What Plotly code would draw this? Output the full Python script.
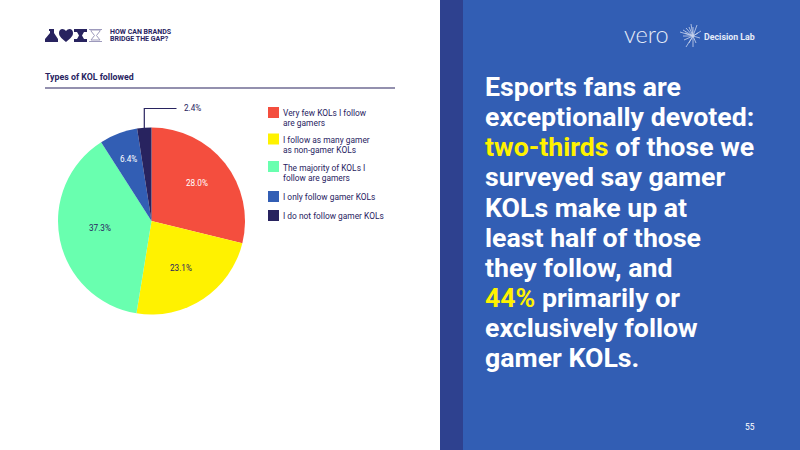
import plotly.graph_objects as go

W, H = 800, 450

# Chart data
categories = ["Very few KOLs I follow<br>are gamers",
              "I follow as many gamer<br>as non-gamer KOLs",
              "The majority of KOLs I<br>follow are gamers",
              "I only follow gamer KOLs",
              "I do not follow gamer KOLs"]
shares = [28.0, 23.1, 37.3, 6.4, 2.4]
slice_colors = ["#F44E3E", "#FFF200", "#69FFAF", "#325EB4", "#28235F"]
label_colors = ["#FFFFFF", "#28235F", "#28235F", "#FFFFFF", "#28235F"]

# Pixel centres of the slice labels and legend rows
label_xy = [(196.7, 183), (180.7, 268), (100, 227.5), (128, 159), (192.5, 108.5)]
legend_text_y = [113, 140, 168, 197, 216]
legend_swatch_y = [112.5, 139, 166.5, 196.5, 215.5]

INK = "#28235F"
PANEL = "#325EB4"
STRIP = "#2E418F"
HIGHLIGHT = "#FFF200"
LOGO = "#E6ECF8"
FONT = "Roboto"

headline = ["Esports fans are",
            "exceptionally devoted:",
            f"<span style='color:{HIGHLIGHT}'>two-thirds</span> of those we",
            "surveyed say gamer",
            "KOLs make up at",
            "least half of those",
            "they follow, and",
            f"<span style='color:{HIGHLIGHT}'>44%</span> primarily or",
            "exclusively follow",
            "gamer KOLs."]
headline_y = [87.5, 117.5, 147.5, 177.5, 207.5, 237.5, 267.5, 297.5, 327.5, 357.5]


def px(x):
    return x / W


def py(y):
    return 1 - y / H


def rect(x0, y0, x1, y1, color, layer="below"):
    return dict(type="rect", xref="paper", yref="paper", x0=px(x0), x1=px(x1),
                y0=py(y0), y1=py(y1), fillcolor=color, line_width=0, layer=layer)


def line(x0, y0, x1, y1, color, width=1.0):
    return dict(type="line", xref="paper", yref="paper", x0=px(x0), x1=px(x1),
                y0=py(y0), y1=py(y1), line=dict(color=color, width=width))


def poly(points, fill, stroke=None):
    d = "M" + "L".join(f"{px(x):.5f},{py(y):.5f}" for x, y in points) + "Z"
    return dict(type="path", xref="paper", yref="paper", path=d, fillcolor=fill,
                line=dict(color=stroke or fill, width=1 if stroke else 0))


def text(x, y, s, size, color=INK, bold=False, anchor="left", family=FONT):
    # Annotations carry a small built-in pad, so left-aligned text is pulled back to compensate
    return dict(xref="paper", yref="paper", x=px(x - 2 if anchor == "left" else x), y=py(y),
                text=f"<b>{s}</b>" if bold else s, showarrow=False,
                xanchor=anchor, yanchor="middle", align="left",
                font=dict(family=family, size=size, color=color))


shapes = [rect(440, 0, 800, 450, PANEL), rect(440, 0, 463, 450, STRIP),
          line(45, 88, 395, 88, INK, 1.2)]

# Header icons: flask, heart, solid hourglass, outlined hourglass
shapes += [poly([(49, 29), (54, 29), (54, 33), (58, 39), (58, 42), (45, 42), (45, 39), (50, 33), (50, 31), (49, 31)], INK),
           dict(type="path", xref="paper", yref="paper", fillcolor=INK, line_width=0,
                path=(f"M{px(59)},{py(33)}C{px(59)},{py(28)} {px(64)},{py(28)} {px(66)},{py(31)}"
                      f"C{px(68)},{py(28)} {px(73)},{py(28)} {px(73)},{py(33)}"
                      f"C{px(73)},{py(37)} {px(69)},{py(39)} {px(66)},{py(42)}"
                      f"C{px(63)},{py(39)} {px(59)},{py(37)} {px(59)},{py(33)}Z")),
           poly([(74, 29), (87, 29), (87, 32), (84, 32), (82, 35.5), (84, 39), (87, 39), (87, 42), (74, 42),
                 (74, 39), (77, 39), (79, 35.5), (77, 32), (74, 32)], INK),
           line(89, 29.5, 102, 29.5, "#9D9ABC", 1), line(89, 41.5, 102, 41.5, "#9D9ABC", 1),
           poly([(91, 30), (100, 30), (100, 31), (96.5, 35.5), (100, 40), (91, 40), (94.5, 35.5), (91, 31)],
                "#FFFFFF", "#9D9ABC")]

# Leader line for the smallest slice
shapes += [line(144.3, 108.5, 176.5, 108.5, INK, 1.2), line(144.3, 108, 144.3, 128, INK, 1.2)]

# Starburst beside the Decision Lab wordmark
burst = [(680, 32), (683, 30), (685, 33), (686, 28), (689, 27), (691, 24), (693, 27),
         (697, 25), (701, 31), (698, 33), (700, 38), (696, 43), (693, 47), (689, 43),
         (686, 47), (684, 40), (683, 36)]
for bx, by in burst:
    shapes.append(line(bx, by, 693, 36, "#C9D4EE", 0.8))

annotations = [
    text(110, 31.7, "<b>HOW CAN BRANDS</b>", 7),
    text(110, 39.3, "<b>BRIDGE THE GAP?</b>", 7),
    text(45, 76.5, "Types of KOL followed", 8.8, bold=True),
    text(624, 34, "vero", 23.5, LOGO, family="Lato Light, Lato"),
    text(704, 36.5, "Decision Lab", 8.8, LOGO, bold=True),
    text(745, 427, "55", 8.4, "#FFFFFF"),
]

for y, row in zip(headline_y, headline):
    annotations.append(text(485, y, row, 26.7, "#FFFFFF", bold=True))

for name, color, ty, sy in zip(categories, slice_colors, legend_text_y, legend_swatch_y):
    shapes.append(rect(268, sy - 5.5, 279, sy + 5.5, color))
    for i, row in enumerate(name.split("<br>")):
        annotations.append(text(283, ty + i * 10, row, 8.4))

for value, color, (lx, ly) in zip(shares, label_colors, label_xy):
    annotations.append(text(lx, ly, f"{value:.1f}%", 8.2, color, anchor="center"))

pie = go.Pie(labels=categories, values=shares, sort=False, direction="clockwise", rotation=0,
             marker=dict(colors=slice_colors, line=dict(width=0)),
             textinfo="none", hoverinfo="label+percent", showlegend=False,
             domain=dict(x=[px(58), px(245)], y=[py(314.5), py(127.5)]))

fig = go.Figure(pie)
fig.update_layout(width=W, height=H, margin=dict(l=0, r=0, t=0, b=0), autosize=False,
                  paper_bgcolor="#FFFFFF", shapes=shapes, annotations=annotations,
                  font=dict(family=FONT, color=INK))
fig.write_html("out.html")
